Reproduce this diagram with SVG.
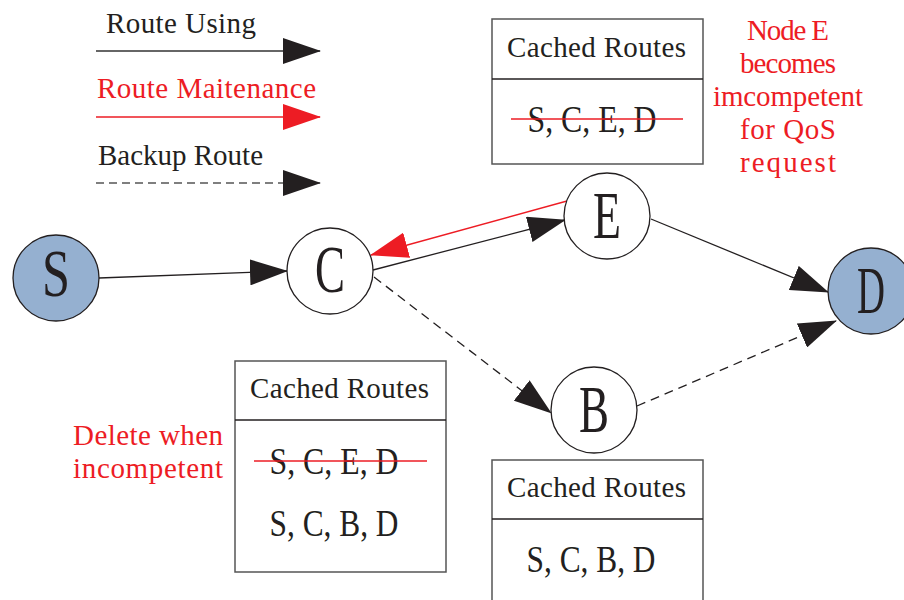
<svg xmlns="http://www.w3.org/2000/svg" width="904" height="600" viewBox="0 0 904 600">
<style>
.mono{font-family:"Liberation Serif","Times New Roman",serif;font-size:29px;}
.blk{fill:#231f20;}
.red{fill:#ed1c24;}
.route{font-family:"Liberation Serif","Times New Roman",serif;font-size:37px;fill:#231f20;text-anchor:middle;}
.letter{font-family:"Liberation Serif","Times New Roman",serif;font-size:68px;fill:#231f20;text-anchor:middle;}
.node{stroke:#231f20;stroke-width:1.3;fill:#ffffff;}
.end{fill:#95b0d0;}
.box{fill:#ffffff;stroke:#555555;stroke-width:1.5;}
.div{stroke:#231f20;stroke-width:1.3;}
.strike{stroke:#ed1c24;stroke-width:1.3;}
.e{fill:none;stroke:#231f20;stroke-width:1.3;}
.er{fill:none;stroke:#ed1c24;stroke-width:1.3;}
.dash{stroke-dasharray:9,6;}
</style>
<defs>
<marker id="ah" markerUnits="userSpaceOnUse" markerWidth="38" markerHeight="26" refX="37" refY="13" orient="auto"><path d="M0,0 L38,13 L0,26 z" fill="#231f20"/></marker>
<marker id="ahr" markerUnits="userSpaceOnUse" markerWidth="38" markerHeight="26" refX="37" refY="13" orient="auto"><path d="M0,0 L38,13 L0,26 z" fill="#ed1c24"/></marker>
</defs>

<g id="legend">
<text class="mono blk" x="106" y="33" textLength="150" lengthAdjust="spacing">Route Using</text>
<line x1="96" y1="51" x2="320" y2="51" stroke="#333333" stroke-width="1.5" marker-end="url(#ah)"/>
<text class="mono red" x="97" y="98" textLength="219" lengthAdjust="spacing">Route Maitenance</text>
<line x1="96" y1="117" x2="320" y2="117" stroke="#ed1c24" stroke-width="1.5" marker-end="url(#ahr)"/>
<text class="mono blk" x="98" y="165" textLength="165" lengthAdjust="spacing">Backup Route</text>
<line x1="96" y1="183" x2="320" y2="183" stroke="#555555" stroke-width="1.5" stroke-dasharray="8,5" marker-end="url(#ah)"/>
</g>

<g id="connectors">
<line class="e" x1="99" y1="278" x2="287" y2="271" marker-end="url(#ah)"/>
<line class="e" x1="373" y1="270" x2="565" y2="220" marker-end="url(#ah)"/>
<line class="er" x1="567" y1="201" x2="371" y2="255" marker-end="url(#ahr)"/>
<line class="e" x1="651" y1="219" x2="828" y2="292" marker-end="url(#ah)"/>
<line class="e dash" x1="374" y1="277" x2="551" y2="413" marker-end="url(#ah)"/>
<line class="e dash" x1="637" y1="406" x2="836" y2="321" marker-end="url(#ah)"/>
</g>

<g id="node-S">
<circle class="node end" cx="56" cy="278" r="43"/>
<text class="letter" x="56" y="296" textLength="28" lengthAdjust="spacingAndGlyphs">S</text>
</g>
<g id="node-C">
<circle class="node" cx="330" cy="271" r="43"/>
<text class="letter" x="330" y="292" textLength="30" lengthAdjust="spacingAndGlyphs">C</text>
</g>
<g id="node-E">
<circle class="node" cx="607" cy="216" r="43"/>
<text class="letter" x="607" y="238" textLength="28" lengthAdjust="spacingAndGlyphs">E</text>
</g>
<g id="node-B">
<circle class="node" cx="594" cy="410" r="43"/>
<text class="letter" x="594" y="432" textLength="30" lengthAdjust="spacingAndGlyphs">B</text>
</g>
<g id="node-D">
<circle class="node end" cx="871" cy="291" r="43"/>
<text class="letter" x="871" y="313" textLength="28" lengthAdjust="spacingAndGlyphs">D</text>
</g>

<g id="cache-E">
<rect class="box" x="492" y="19" width="211" height="145"/>
<line class="div" x1="492" y1="79" x2="703" y2="79"/>
<text class="mono blk" x="507" y="57" textLength="179" lengthAdjust="spacing">Cached Routes</text>
<text class="route" x="592" y="132" textLength="129" lengthAdjust="spacingAndGlyphs">S, C, E, D</text>
<line class="strike" x1="511" y1="119" x2="683" y2="119"/>
</g>

<g id="note-E">
<text class="mono red" text-anchor="middle" x="788" y="40" textLength="82" lengthAdjust="spacing">Node E</text>
<text class="mono red" text-anchor="middle" x="788" y="73" textLength="96" lengthAdjust="spacing">becomes</text>
<text class="mono red" text-anchor="middle" x="788" y="106" textLength="150" lengthAdjust="spacing">imcompetent</text>
<text class="mono red" text-anchor="middle" x="788" y="139" textLength="96" lengthAdjust="spacing">for QoS</text>
<text class="mono red" text-anchor="middle" x="788" y="172" textLength="96" lengthAdjust="spacing">request</text>
</g>

<g id="cache-S">
<rect class="box" x="235" y="361" width="211" height="211"/>
<line class="div" x1="235" y1="420" x2="446" y2="420"/>
<text class="mono blk" x="250" y="398" textLength="179" lengthAdjust="spacing">Cached Routes</text>
<text class="route" x="334" y="474" textLength="129" lengthAdjust="spacingAndGlyphs">S, C, E, D</text>
<line class="strike" x1="254" y1="461" x2="427" y2="461"/>
<text class="route" x="334" y="536" textLength="129" lengthAdjust="spacingAndGlyphs">S, C, B, D</text>
</g>

<g id="note-S">
<text class="mono red" x="73" y="445" textLength="150" lengthAdjust="spacing">Delete when</text>
<text class="mono red" x="73" y="478" textLength="150" lengthAdjust="spacing">incompetent</text>
</g>

<g id="cache-B">
<rect class="box" x="492" y="460" width="211" height="150"/>
<line class="div" x1="492" y1="519" x2="703" y2="519"/>
<text class="mono blk" x="507" y="497" textLength="179" lengthAdjust="spacing">Cached Routes</text>
<text class="route" x="591" y="572" textLength="129" lengthAdjust="spacingAndGlyphs">S, C, B, D</text>
</g>
</svg>
